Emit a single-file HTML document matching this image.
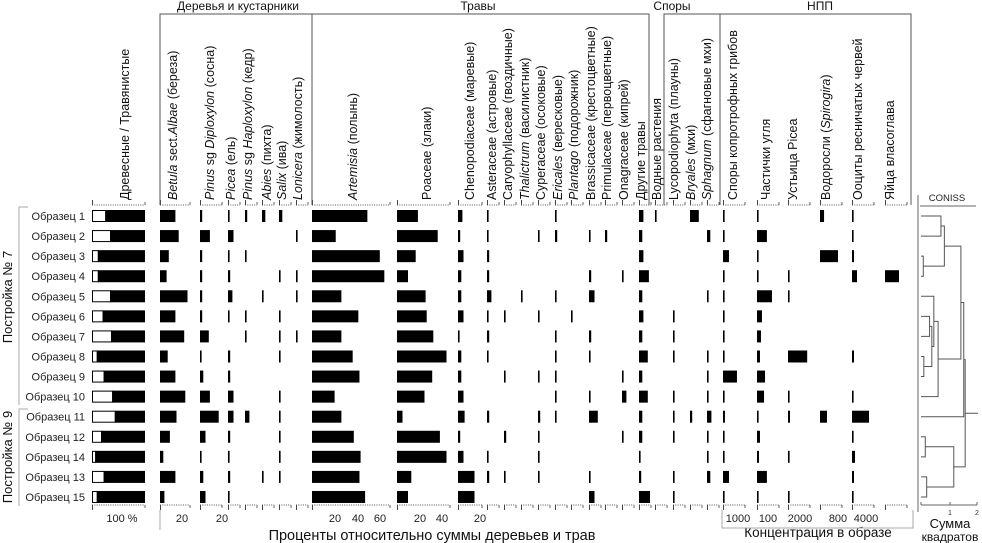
<!DOCTYPE html>
<html><head><meta charset="utf-8">
<style>
html,body{margin:0;padding:0;background:#fff;}
svg{display:block;font-family:"Liberation Sans",sans-serif;}
</style></head><body>
<svg id="chart" width="982" height="543" viewBox="0 0 982 543" xmlns="http://www.w3.org/2000/svg">
<g id="g"></g>
</svg>
<script>
// ---- data ----
const samples = ["Образец 1","Образец 2","Образец 3","Образец 4","Образец 5","Образец 6","Образец 7","Образец 8","Образец 9","Образец 10","Образец 11","Образец 12","Образец 14","Образец 13","Образец 15"];
const treeShare = [25,34,11,11,34,20,36,9,22,38,43,17,6,22,9];
const betula = [14,17,8,6,25,14,22,7,14,23,15,9,3,14,4];
const pinusDipl = [2,9,2,2,2,2,8,1,3,9,17,5,1,3,5];
const picea = [1,5,1,2,4,1,0,2,2,5,5,2,1,2,1];
const pinusHapl = [2,0,1,0,0,1,1,0,0,0,4,0,0,0,0];
const abies = [3,0,0,0,1,0,0,0,0,0,0,0,0,1,0];
const salix = [3,0,0,1,0,1,1,1,0,1,1,1,1,1,0];
const lonicera = [0,1,0,1,1,0,1,0,0,0,0,0,0,0,0];
const artemisia = [49,21,60,64,26,41,26,36,42,20,26,37,43,42,47];
const poaceae = [19,37,17,10,26,27,33,45,32,25,5,39,45,13,10];
const chenopod = [4,2,5,3,3,5,1,3,3,5,6,2,5,15,15];
const asteraceae = [1,1,2,2,4,1,2,1,0,0,2,0,1,2,0];
const caryo = [0,0,0,0,0,1,0,0,1,0,0,2,0,1,0];
const thalictrum = [0,0,0,0,1,0,0,0,0,0,0,0,0,0,0];
const cyperaceae = [0,1,0,0,0,1,0,0,1,0,2,1,1,1,0];
const ericales = [1,2,0,0,1,0,1,1,1,1,1,0,0,0,0];
const plantago = [0,0,0,0,0,1,0,0,0,0,0,0,0,0,0];
const brassica = [0,1,0,2,5,0,2,1,0,1,8,0,0,1,5];
const primula = [0,2,0,0,0,0,0,0,0,0,0,0,0,0,0];
const onagraceae = [0,0,0,1,0,0,0,0,1,4,0,1,0,0,0];
const otherHerbs = [4,3,4,9,3,4,3,8,3,8,3,3,1,2,10];
const aquatic = [1,0,0,0,0,0,0,0,0,0,0,0,0,0,0];
const lyco = [0,0,0,0,0,1,1,1,0,1,1,1,0,1,1];
const bryales = [8,0,0,0,0,0,0,0,0,0,2,0,0,0,0];
const sphagnum = [0,3,0,0,1,0,0,1,1,1,4,1,1,3,0];
const fungi = [70,70,400,70,70,70,70,70,930,70,130,70,70,400,70];
const charcoal = [9,90,9,9,136,45,36,27,73,64,9,27,18,90,9];
const stomata = [0,0,0,170,170,0,0,3200,0,170,330,0,170,0,170];
const algae = [180,0,800,0,0,0,0,0,0,0,310,0,0,0,0];
const oocytes = [290,290,570,1430,0,0,0,570,0,290,4860,290,860,570,290];
const eggs = [0,0,0,14,0,0,0,0,0,0,0,0,0,0,0];
// dendrogram merges: [left, right, height]
const merges = [[0,1,0.7],[2,3,0.08],[15,16,0.82],[5,6,0.3],[7,8,0.1],[18,19,0.38],[4,20,0.45],[21,9,0.6],[17,22,1.4],[23,10,1.5],[11,12,0.15],[13,14,0.2],[25,26,1.15],[24,27,1.55]];
const pctTicks = ["20","20","20","40","60","20","40","20"];

// ---- layout ----
const NS="http://www.w3.org/2000/svg";
const G=document.getElementById('g');
function el(t,a,p){const e=document.createElementNS(NS,t);for(const k in a)e.setAttribute(k,a[k]);(p||G).appendChild(e);return e;}
const rowY=i=>216+i*20.07, BH=12;

// columns: data, x0, px per unit, axis length, label parts, label x
const cols=[
 {d:betula,x:160,s:1.1,len:30,lx:177,n:"betula",lab:[["Betula",1],[" sect.",0],["Albae",1],[" (береза)",0]]},
 {d:pinusDipl,x:200,s:1.1,len:22,lx:214,n:"pinus-diploxylon",lab:[["Pinus",1],[" sg ",0],["Diploxylon",1],[" (сосна)",0]]},
 {d:picea,x:228,s:1.1,len:12,lx:235,n:"picea",lab:[["Picea",1],[" (ель)",0]]},
 {d:pinusHapl,x:245,s:1.1,len:12,lx:252,n:"pinus-haploxylon",lab:[["Pinus",1],[" sg ",0],["Haploxylon",1],[" (кедр)",0]]},
 {d:abies,x:262,s:1.1,len:12,lx:271,n:"abies",lab:[["Abies",1],[" (пихта)",0]]},
 {d:salix,x:279,s:1.1,len:12,lx:286,n:"salix",lab:[["Salix",1],[" (ива)",0]]},
 {d:lonicera,x:296,s:1.1,len:12,lx:302,n:"lonicera",lab:[["Lonicera",1],[" (жимолость)",0]]},
 {d:artemisia,x:312,s:1.13,len:78,lx:357,n:"artemisia",lab:[["Artemisia",1],[" (полынь)",0]]},
 {d:poaceae,x:397,s:1.1,len:53,lx:431,n:"poaceae",lab:[["Poaceae (злаки)",0]]},
 {d:chenopod,x:458,s:1.1,len:24,lx:474,n:"chenopodiaceae",lab:[["Chenopodiaceae (маревые)",0]]},
 {d:asteraceae,x:487,s:1.1,len:12,lx:496,n:"asteraceae",lab:[["Asteraceae (астровые)",0]]},
 {d:caryo,x:504,s:1.1,len:12,lx:512,n:"caryophyllaceae",lab:[["Caryophyllaceae (гвоздичные)",0]]},
 {d:thalictrum,x:521,s:1.1,len:12,lx:529,n:"thalictrum",lab:[["Thalictrum",1],[" (василистник)",0]]},
 {d:cyperaceae,x:538,s:1.1,len:12,lx:545,n:"cyperaceae",lab:[["Cyperaceae (осоковые)",0]]},
 {d:ericales,x:555,s:1.1,len:12,lx:562,n:"ericales",lab:[["Ericales",1],[" (вересковые)",0]]},
 {d:plantago,x:571,s:1.1,len:12,lx:578,n:"plantago",lab:[["Plantago",1],[" (подорожник)",0]]},
 {d:brassica,x:589,s:1.1,len:12,lx:595,n:"brassicaceae",lab:[["Brassicaceae (крестоцветные)",0]]},
 {d:primula,x:605,s:1.1,len:12,lx:611,n:"primulaceae",lab:[["Primulaceae (первоцветные)",0]]},
 {d:onagraceae,x:622,s:1.1,len:12,lx:628,n:"onagraceae",lab:[["Onagraceae (кипрей)",0]]},
 {d:otherHerbs,x:639,s:1.1,len:12,lx:645,n:"other-herbs",lab:[["Другие травы",0]]},
 {d:aquatic,x:655,s:1.1,len:12,lx:661,n:"aquatic-plants",lab:[["Водные растения",0]]},
 {d:lyco,x:673,s:1.1,len:12,lx:678,n:"lycopodiophyta",lab:[["Lycopodiophyta (плауны)",0]]},
 {d:bryales,x:690,s:1.1,len:12,lx:695,n:"bryales",lab:[["Bryales",1],[" (мхи)",0]]},
 {d:sphagnum,x:707,s:1.1,len:12,lx:711,n:"sphagnum",lab:[["Sphagnum",1],[" (сфагновые мхи)",0]]},
 {d:fungi,x:723,s:0.015,len:22,lx:737,n:"coprophilous-fungi",lab:[["Споры копротрофных грибов",0]]},
 {d:charcoal,x:757,s:0.11,len:22,lx:770,n:"charcoal",lab:[["Частички угля",0]]},
 {d:stomata,x:788,s:0.006,len:22,lx:797,n:"picea-stomata",lab:[["Устьица Picea",0]]},
 {d:algae,x:820,s:0.0225,len:22,lx:830,n:"algae",lab:[["Водоросли (",0],["Spirogira",1],[")",0]]},
 {d:oocytes,x:852,s:0.0035,len:22,lx:862,n:"oocytes",lab:[["Ооциты ресничатых червей",0]]},
 {d:eggs,x:885,s:1,len:22,lx:894,n:"hairworm-eggs",lab:[["Яйца власоглава",0]]}
];

function axis(x,len,y,dir,name){
  const a=el('g',{});
  
  
  el('line',{x1:x,y1:y,x2:x+len,y2:y,stroke:'#555','stroke-width':1,'stroke-dasharray':'1,1.3'},a);
  el('line',{x1:x+0.5,y1:y,x2:x+0.5,y2:y+dir*5,stroke:'#444','stroke-width':1},a);
  el('line',{x1:x+len,y1:y,x2:x+len,y2:y+dir*3,stroke:'#666','stroke-width':1},a);
}
function rotLabel(x,parts,name){
  const t=el('text',{transform:`translate(${x},200) rotate(-90)`,'font-size':12.5,fill:'#111'});
  
  
  parts.forEach(p=>{const s=el('tspan',{},t);if(p[1])s.setAttribute('font-style','italic');s.textContent=p[0];});
}

// sample labels
samples.forEach((s,i)=>{
  const t=el('text',{x:85,y:rowY(i)+4,'text-anchor':'end','font-size':11,fill:'#222'});
  
  
  t.textContent=s;
});

// tree/herb ratio column
axis(92,53,205,-1,'ratio-top-axis');axis(92,53,505,1,'ratio-bottom-axis');
rotLabel(129,[["Древесные / Травянистые",0]],'ratio-column-title');
treeShare.forEach((v,i)=>{
  const w=v*0.53,y=rowY(i)-BH/2;
  const r1=el('rect',{x:92.5,y:y+0.5,width:w,height:BH-1,fill:'#fff',stroke:'#000','stroke-width':1});
  
  
  const r2=el('rect',{x:92+w,y:y,width:53-w,height:BH,fill:'#000'});
  
  
});

cols.forEach(c=>{
  axis(c.x,c.len,205,-1,c.n+'-top-axis');axis(c.x,c.len,505,1,c.n+'-bottom-axis');
  rotLabel(c.lx,c.lab,c.n+'-title');
  c.d.forEach((v,i)=>{
    if(!v)return;
    const w=Math.max(1.6,v*c.s);
    const r=el('rect',{x:c.x,y:rowY(i)-BH/2,width:w,height:BH,fill:'#000'});
    
    
  });
});

// bottom tick labels
const tickX=[182,222,335,358,380,420,442,480];
pctTicks.forEach((t,i)=>{
  const e=el('text',{x:tickX[i],y:522,'text-anchor':'middle','font-size':11,fill:'#222'});
  
  
  e.textContent=t;
});
const concTicks=["1000","100","2000","800","4000"];
const concX=[738,768,800,838,866];
concTicks.forEach((t,i)=>{
  const e=el('text',{x:concX[i],y:522,'text-anchor':'middle','font-size':11,fill:'#222'});
  
  
  e.textContent=t;
});
</script>
<svg x="0" y="0" width="0" height="0"></svg>
<script>
const S=document.getElementById('chart');
function add(t,a,txt){const e=document.createElementNS("http://www.w3.org/2000/svg",t);for(const k in a)e.setAttribute(k,a[k]);if(txt)e.textContent=txt;S.appendChild(e);return e;}
let e;
e=add('text',{x:122,y:522,'text-anchor':'middle','font-size':11,fill:'#222'},'100 %');


e=add('text',{x:432,y:540,'text-anchor':'middle','font-size':14.5,fill:'#111'},'Проценты относительно суммы деревьев и трав');


e=add('text',{x:818,y:537,'text-anchor':'middle','font-size':13.5,fill:'#111'},'Концентрация в образе');


e=add('path',{d:'M160 510 V530 M722 510 V528 H913 V510',fill:'none',stroke:'#aaa','stroke-width':1});


// group headers
e=add('path',{d:'M160 205 V14 H649 V205 M312 14 V205 M664 205 V14 H911 V205 M720 14 V205',fill:'none',stroke:'#555','stroke-width':1});


[["Деревья и кустарники",238],["Травы",478],["Споры",672],["НПП",820]].forEach(g=>{
  const t=add('text',{x:g[1],y:10,'text-anchor':'middle','font-size':12,fill:'#111'},g[0]);
  
  
});
// building brackets
e=add('path',{d:'M28 207 H19 V405 M28 409 H19 V506',fill:'none',stroke:'#aaa','stroke-width':1});


e=add('text',{transform:'translate(12,297) rotate(-90)','text-anchor':'middle','font-size':13,fill:'#111'},'Постройка № 7');


e=add('text',{transform:'translate(12,457) rotate(-90)','text-anchor':'middle','font-size':13,fill:'#111'},'Постройка № 9');


// CONISS
e=add('text',{x:947,y:201,'text-anchor':'middle','font-size':9.5,fill:'#222'},'CONISS');


e=add('path',{d:'M920 206 H976 M918 195 V512',fill:'none',stroke:'#666','stroke-width':1});


e=add('path',{d:'M921 505 H977 M921 505 v-3 M950 505 v-3 M977 505 v-3',fill:'none',stroke:'#666','stroke-width':1,'stroke-dasharray':'none'});


[["1",950],["2",977]].forEach(t=>{const q=add('text',{x:t[1],y:515,'text-anchor':'middle','font-size':7,fill:'#333'},t[0]);});
e=add('text',{x:950,y:528,'text-anchor':'middle','font-size':13,fill:'#111'},'Сумма');


e=add('text',{x:950,y:541,'text-anchor':'middle','font-size':12,fill:'#111'},'квадратов');


// dendrogram from merges
const dx=h=>921+h*28.5;
const nodes=samples.map((s,i)=>({y:216+i*20.07,h:0}));
let dp='';
merges.forEach(m=>{
  const a=nodes[m[0]],b=nodes[m[1]],x=dx(m[2]);
  dp+=`M${dx(a.h)} ${a.y} H${x} V${b.y} H${dx(b.h)} `;
  nodes.push({y:(a.y+b.y)/2,h:m[2]});
});
const root=nodes[nodes.length-1];
dp+=`M${dx(root.h)} ${root.y} H978`;
e=add('path',{d:dp,fill:'none',stroke:'#555','stroke-width':1});


</script>
</body></html>
